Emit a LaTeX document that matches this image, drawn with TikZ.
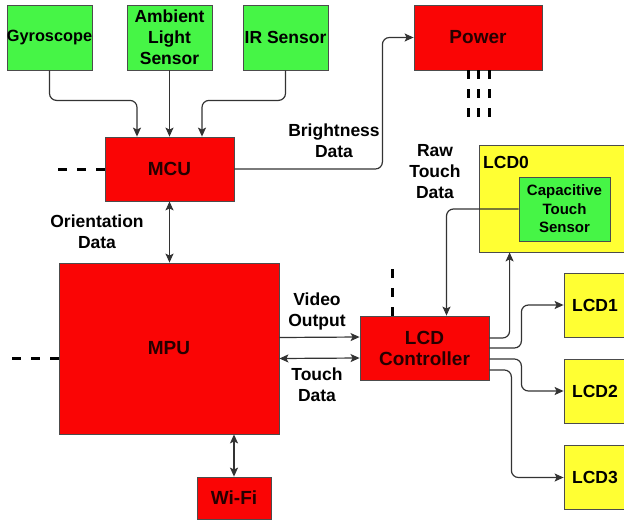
\documentclass[tikz,border=0pt]{standalone}
\usepackage{fontspec}
\setmainfont{Liberation Sans}
\usepackage{tikz}
\usetikzlibrary{arrows.meta,calc}
\definecolor{blockred}{RGB}{250,5,5}
\definecolor{sensorgreen}{RGB}{70,245,70}
\definecolor{lcdyellow}{RGB}{255,255,51}
\colorlet{wiregray}{black!80}
\colorlet{redtxt}{black!85!red}
\newcommand{\bigtxt}{\bfseries\fontsize{17.5}{21}\selectfont}
\newcommand{\redtxt}{\bfseries\fontsize{19}{21}\selectfont}
\newcommand{\smalltxt}{\bfseries\fontsize{15}{18.5}\selectfont}

\begin{document}
\begin{tikzpicture}[x=1pt,y=-1pt,>={Stealth[length=9pt,width=8pt,inset=2pt]},
  block/.style={draw=black!70,line width=0.8pt,fill=#1,inner sep=0pt,align=center,font=\bigtxt},
  hot/.style={block=blockred,text=redtxt,font=\redtxt},
  link/.style={draw=wiregray,line width=1.2pt,rounded corners=7pt},
  stub/.style={line width=3pt,dash pattern=on 9pt off 10pt},
  lbl/.style={align=center,inner sep=0pt,font=\bigtxt}]
\useasboundingbox (0,0) rectangle (624,520);
% sensors and power
\node[block=sensorgreen,minimum width=85pt,minimum height=65pt,font=\bfseries\fontsize{16.3}{21}\selectfont] (gyro) at (49.5,37.5) {Gyroscope};
\node[block=sensorgreen,minimum width=85pt,minimum height=65pt] (als) at (169.5,37.5) {Ambient\\Light\\Sensor};
\node[block=sensorgreen,minimum width=85pt,minimum height=65pt] (ir) at (285.5,37.5) {IR Sensor};
\node[hot,minimum width=128pt,minimum height=65pt] (power) at (478,37.5) {Power};
% processors
\node[hot,minimum width=129pt,minimum height=64pt] (mcu) at (169.5,169) {MCU};
\node[hot,minimum width=220pt,minimum height=171pt] (mpu) at (169,348.5) {MPU};
\node[hot,minimum width=74pt,minimum height=42pt] (wifi) at (234,498) {Wi-Fi};
\node[hot,minimum width=129pt,minimum height=64pt] (lcdc) at (424.5,348) {LCD\\Controller};
% displays
\node[block=lcdyellow,minimum width=150pt,minimum height=107pt] (lcd0) at (554,198.5) {};
\node[lbl,anchor=west] (lcd0txt) at (483,162) {LCD0};
\node[block=sensorgreen,minimum width=91pt,minimum height=64pt,font=\smalltxt] (cts) at (564.5,209) {Capacitive\\Touch\\Sensor};
\node[block=lcdyellow,minimum width=62pt,minimum height=64pt] (lcd1) at (595,305) {LCD1};
\node[block=lcdyellow,minimum width=62pt,minimum height=64pt] (lcd2) at (595,391) {LCD2};
\node[block=lcdyellow,minimum width=62pt,minimum height=64pt] (lcd3) at (595,477.5) {LCD3};
% labels
\node[lbl] (brt) at (334,141) {Brightness\\Data};
\node[lbl] (raw) at (435,172) {Raw\\Touch\\Data};
\node[lbl] (ori) at (97,232) {Orientation\\Data};
\node[lbl] (vid) at (317,311) {Video\\Output};
\node[lbl] (tch) at (317,385) {Touch\\Data};
% connectors
\draw[link,->] (gyro.south) -- ++(0,30) -| ($(mcu.north)+(-32.5,0)$);
\draw[link,->] (als) -- (mcu);
\draw[link,->] (ir.south) -- ++(0,30) -| ($(mcu.north)+(32.5,0)$);
\draw[link,<->] (mcu.south) -- (mcu.south |- mpu.north);
\draw[link,->] (mcu.east) -- ++(148,0) |- (power.west);
\draw[link,<->] (wifi.north) -- (wifi.north |- mpu.south);
\draw[link,->] ($(mpu.east)+(0,-11)$) -- ($(lcdc.west)+(0,-11)$);
\draw[link,<->] ($(mpu.east)+(0,10)$) -- ($(lcdc.west)+(0,10)$);
\draw[link,->] (cts.west) -| ($(lcdc.north)+(22,0)$);
\draw[link,->] ($(lcdc.east)+(0,-10)$) -| ($(lcd0.south west)+(31,0)$);
\draw[link,->] (lcdc.east) -- ++(32,0) |- (lcd1.west);
\draw[link,->] ($(lcdc.east)+(0,11)$) -- ++(32,0) |- (lcd2.west);
\draw[link,->] ($(lcdc.east)+(0,22)$) -- ++(22,0) |- (lcd3.west);
% open ends
\draw[stub] (mcu.west) -- ++(-48,0);
\draw[stub] ($(mpu.west)+(0,10)$) -- ++(-48,0);
\draw[stub] ($(lcdc.north)+(-32,0)$) -- ++(0,-48);
\foreach \dx in {-10,0,11}
  \draw[stub] ($(power.south)+(\dx,0)$) -- ++(0,48);
\end{tikzpicture}
\end{document}
